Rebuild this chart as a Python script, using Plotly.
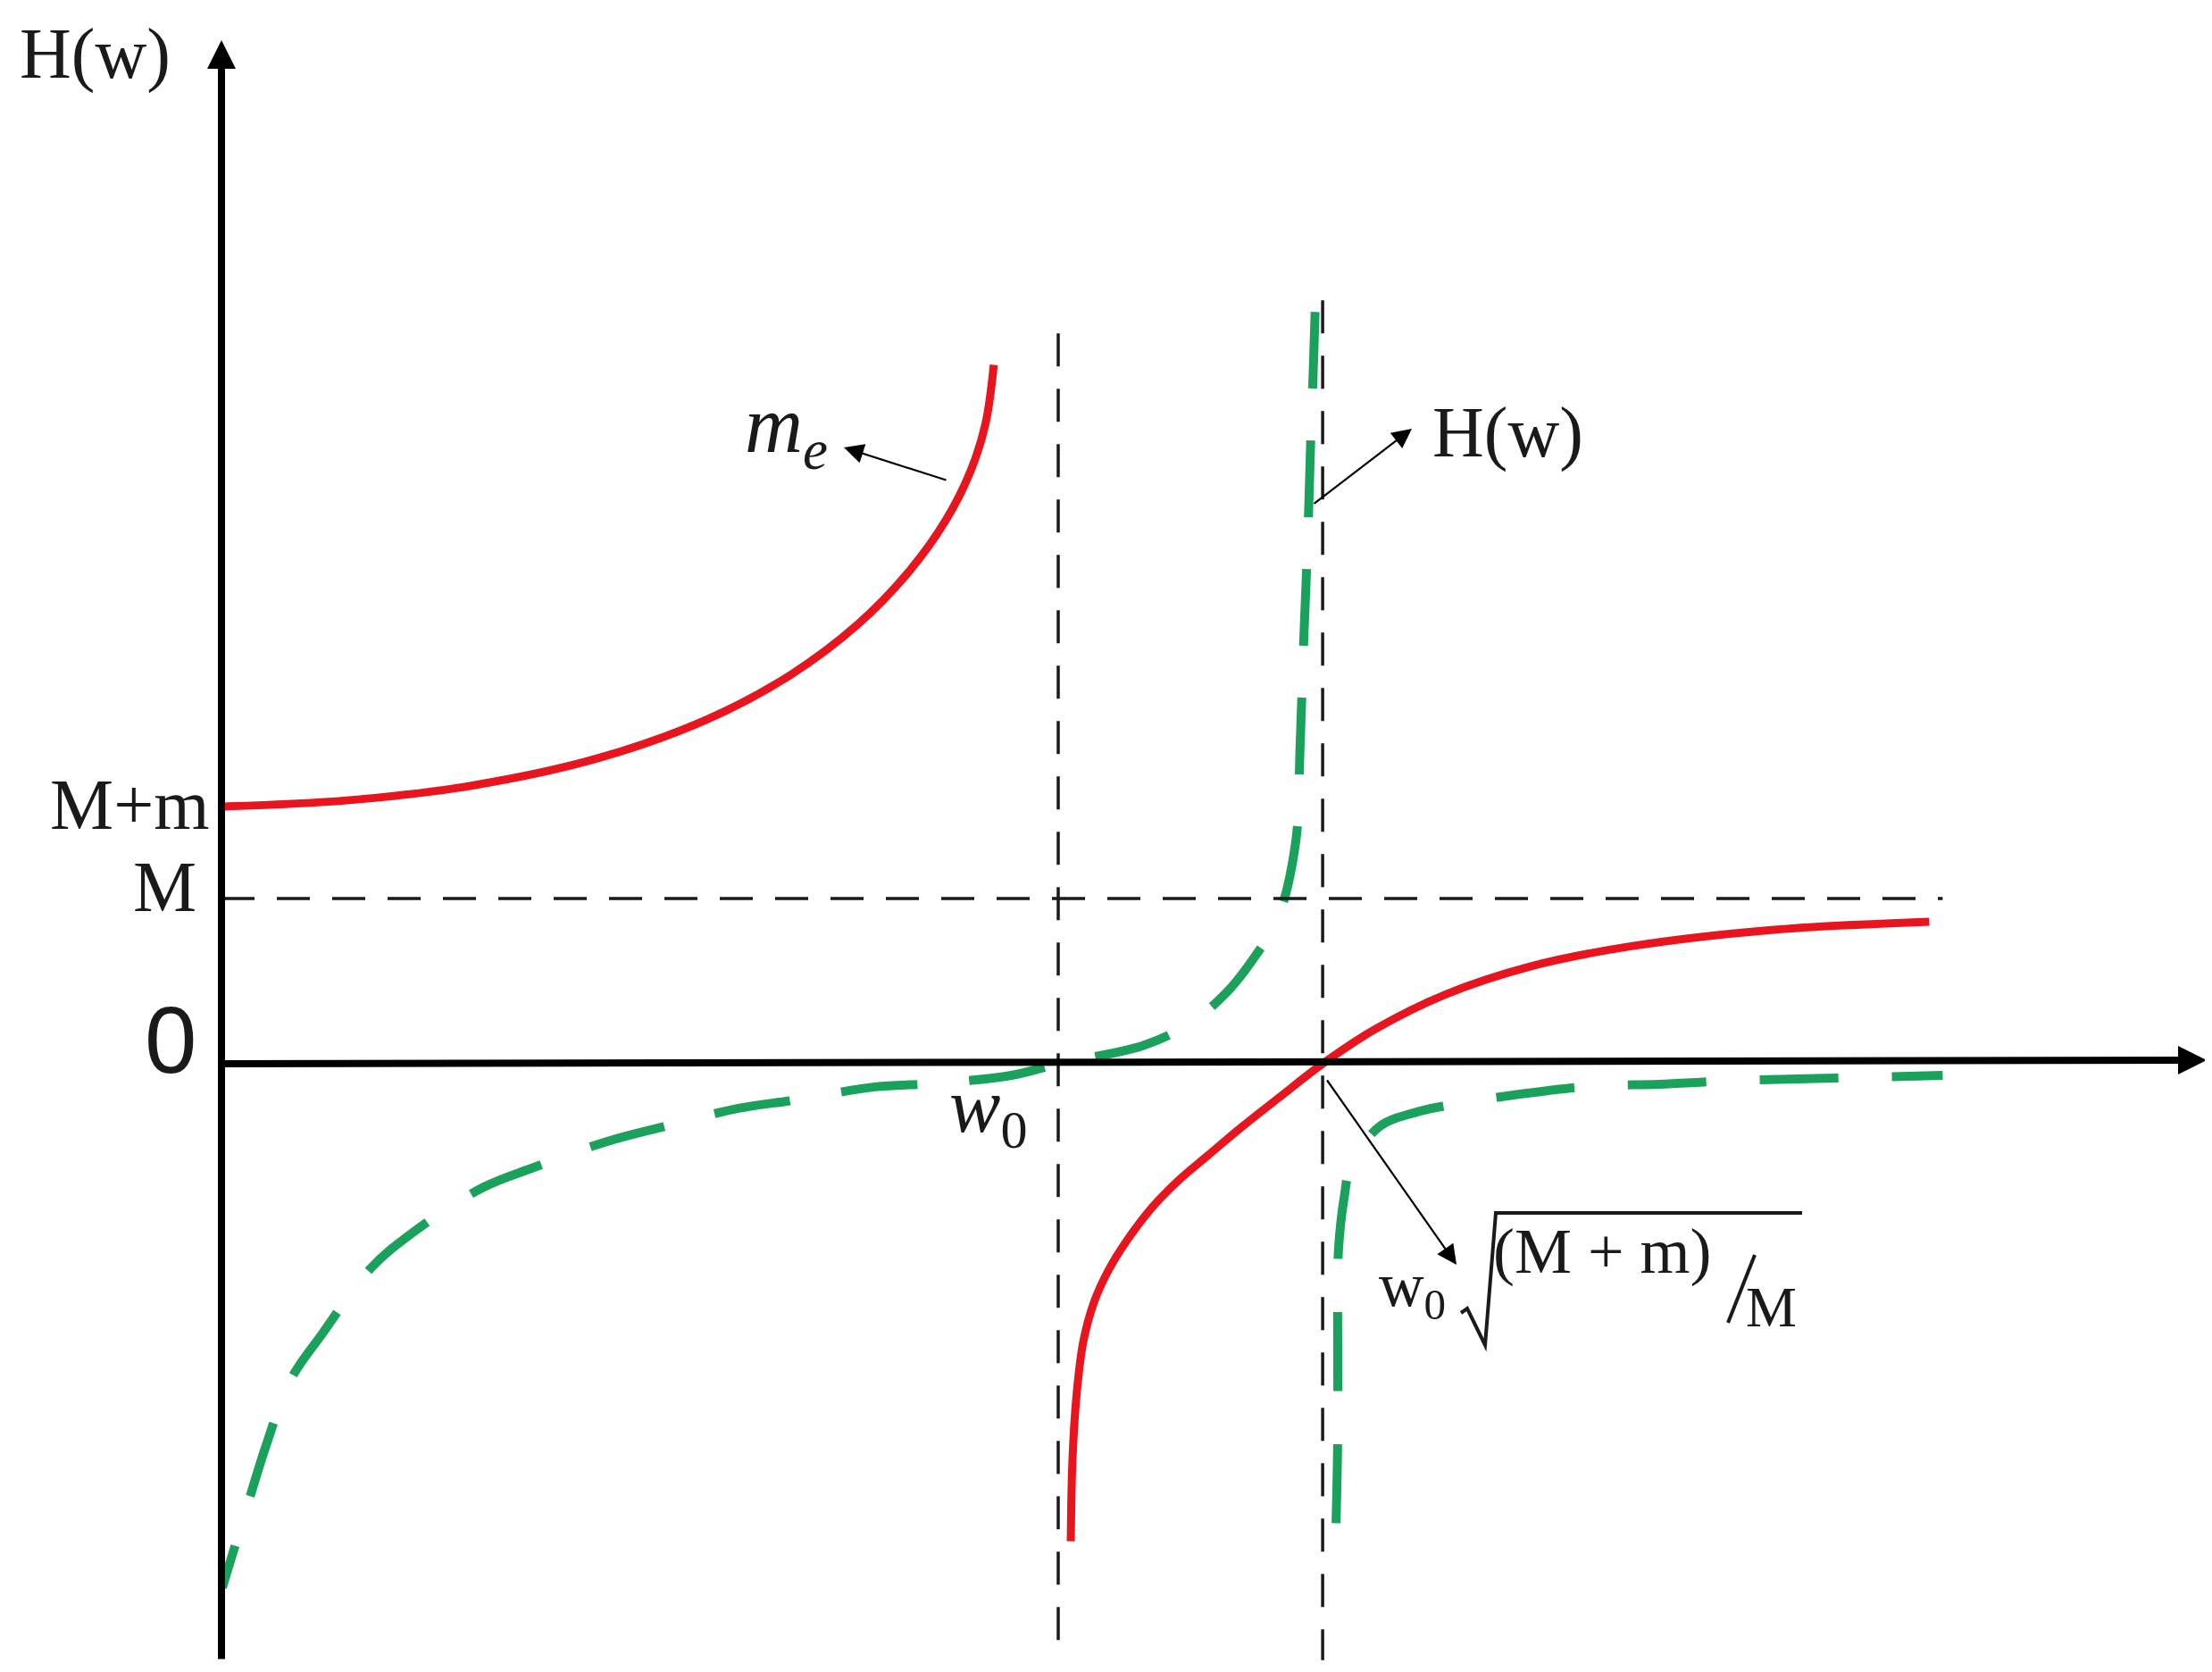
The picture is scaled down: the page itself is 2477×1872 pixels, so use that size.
import plotly.graph_objects as go

# curve values: w in units of w0, H in units of M
me_left_w = [0.0, 0.15, 0.30, 0.45, 0.58, 0.68, 0.76, 0.82, 0.865, 0.895, 0.913, 0.923]
me_left_h = [1.557, 1.594, 1.684, 1.849, 2.083, 2.353, 2.657, 2.969, 3.284, 3.584, 3.872, 4.23]

me_right_w = [1.015, 1.017, 1.022, 1.030, 1.043, 1.060, 1.082, 1.113, 1.145, 1.180,
              1.220, 1.265, 1.316, 1.379, 1.463, 1.565, 1.683, 1.852, 2.041]
me_right_h = [-2.89, -2.40, -2.00, -1.68, -1.44, -1.25, -1.07, -0.865, -0.70, -0.55,
              -0.38, -0.20, 0.0, 0.21, 0.42, 0.59, 0.71, 0.81, 0.86]

hw_left_w = [0.001, 0.030, 0.052, 0.083, 0.121, 0.178, 0.229, 0.312, 0.372, 0.461,
             0.529, 0.618, 0.685, 0.781, 0.848, 0.944, 1.0, 1.101, 1.156, 1.199,
             1.231, 1.263, 1.284, 1.289, 1.293, 1.298, 1.302, 1.305, 1.307]
hw_left_h = [-3.17, -2.69, -2.33, -1.91, -1.63, -1.24, -1.02, -0.75, -0.63, -0.47,
             -0.38, -0.27, -0.22, -0.14, -0.12, -0.07, 0.0, 0.11, 0.24, 0.42,
             0.62, 0.89, 1.35, 1.91, 2.51, 3.15, 3.81, 4.23, 4.55]

hw_right_w = [1.332, 1.334, 1.334, 1.335, 1.342, 1.350, 1.384, 1.430, 1.480, 1.558,
              1.640, 1.718, 1.801, 1.932, 2.057]
hw_right_h = [-2.78, -2.27, -1.44, -1.12, -0.80, -0.61, -0.38, -0.29, -0.24, -0.18,
              -0.135, -0.124, -0.103, -0.086, -0.070]

asym_w = [1.0, 1.316]
asym_top = [4.42, 4.62]
asym_bottom = -3.61
m_level = 1.0
m_level_end = 2.057

W, H = 2477, 1872
# pixel frame of the drawing (origin and pixels per unit)
X0, Y0 = 240, 1183
SX, SY = 937, 185


def px(x):
    return (x - X0) / SX


def py(y):
    return (Y0 - y) / SY


RED = '#E8141E'
GREEN = '#1AA15B'
INK = '#1a1a1a'
SERIF = 'Liberation Serif'

fig = go.Figure()

fig.add_trace(go.Scatter(x=me_left_w, y=me_left_h, mode='lines',
                         line=dict(color=RED, width=9, shape='spline')))
fig.add_trace(go.Scatter(x=me_right_w, y=me_right_h, mode='lines',
                         line=dict(color=RED, width=9, shape='spline')))
fig.add_trace(go.Scatter(x=hw_left_w[::-1], y=hw_left_h[::-1], mode='lines',
                         line=dict(color=GREEN, width=10, shape='spline', dash='86px,58px')))
fig.add_trace(go.Scatter(x=hw_right_w, y=hw_right_h, mode='lines',
                         line=dict(color=GREEN, width=10, shape='spline', dash='88px,60px')))

# asymptotes and the M level (drawn from the top so the dashes start there)
for xw, top in zip(asym_w, asym_top):
    fig.add_trace(go.Scatter(x=[xw, xw], y=[top, asym_bottom], mode='lines',
                             line=dict(color=INK, width=3.5, dash='37px,25px')))
fig.add_trace(go.Scatter(x=[0, m_level_end], y=[m_level, m_level], mode='lines',
                         line=dict(color=INK, width=3.5, dash='37px,25px')))

ann = []


def arrow(x0, y0, x1, y1, width, size):
    ann.append(dict(x=px(x1), y=py(y1), ax=px(x0), ay=py(y0), xref='x', yref='y',
                    axref='x', ayref='y', showarrow=True, arrowhead=2,
                    arrowwidth=width, arrowsize=size, arrowcolor='black', text=''))


def label(x, y, text, size, family=SERIF):
    ann.append(dict(x=px(x), y=py(y), xref='x', yref='y', text=text, showarrow=False,
                    xanchor='center', yanchor='middle',
                    font=dict(family=family, size=size, color=INK)))


# coordinate axes
arrow(240, 1851, 240, 37, 8, 0.8)
arrow(240, 1183, 2463, 1179, 8, 0.8)

# pointer arrows
arrow(1053, 530, 937, 493, 2.2, 2)
arrow(1462, 557, 1573, 472, 2.2, 2)
arrow(1477, 1200, 1623, 1408, 2.2, 2)

label(98, 52, 'H(w)', 80)
label(137, 893, 'M+m', 80)
label(176, 985, 'M', 80)
label(183, 1156, '0', 105, 'Liberation Sans')
label(872, 474, '<i>m<sub>e</sub></i>', 90)
label(1098, 1236, '<i>w</i><sub>0</sub>', 86)
label(1680, 476, 'H(w)', 80)
label(1573, 1436, 'w<sub>0</sub>', 70)
label(1786, 1393, '(M + m)', 72)
label(1975, 1455, 'M', 64)

shapes = [
    dict(type='path', xref='x', yref='y',
         path='M {} {} L {} {} L {} {} L {} {} L {} {}'.format(
             px(1628), py(1462), px(1635), py(1457), px(1655), py(1498),
             px(1667), py(1350), px(2010), py(1350)),
         line=dict(color=INK, width=4)),
    dict(type='line', xref='x', yref='y', x0=px(1927), y0=py(1473), x1=px(1957), y1=py(1397),
         line=dict(color=INK, width=4)),
]

fig.update_layout(
    width=W, height=H,
    margin=dict(l=0, r=0, t=0, b=0),
    paper_bgcolor='white', plot_bgcolor='white',
    showlegend=False,
    xaxis=dict(range=[px(0), px(W)], visible=False),
    yaxis=dict(range=[py(H), py(0)], visible=False),
    annotations=ann,
    shapes=shapes,
)

fig.write_html("out.html")
